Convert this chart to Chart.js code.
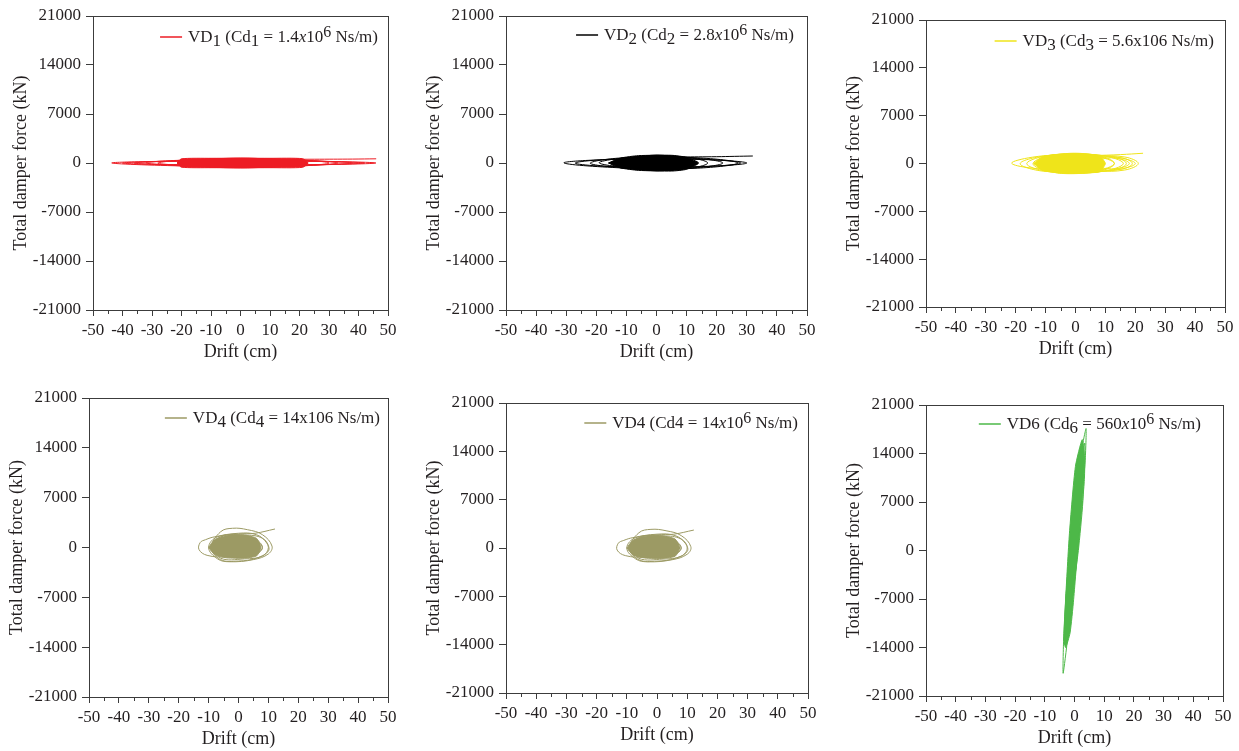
<!DOCTYPE html>
<html>
<head>
<meta charset="utf-8">
<script src="https://cdn.jsdelivr.net/npm/chart.js@4.4.1/dist/chart.umd.min.js"></script>
<style>
  body { margin: 0; background: #fff; width: 1239px; height: 751px; position: relative; overflow: hidden; }
  canvas { position: absolute; }
</style>
</head>
<body>
<script>
// --- axis ticks ---
const driftTicks = [-50, -40, -30, -20, -10, 0, 10, 20, 30, 40, 50];
const forceTicks = [-21000, -14000, -7000, 0, 7000, 14000, 21000];

// --- VD1 (red) ---
const vd1Drift = [0, -4,-2,2,4,2,-2, -11,-5.5,6.5,13,6.5,-5.5, -20,-10,11,22,11,-10, -32,-16,16.5,33,16.5,-16,
  -43.6,-21.8,23,45.9,23,-21.8, -40,-20,21,42,21,-20, -36,-18,19,38,19,-18, -28,-14,15,30,15,-14,
  -21,-10.5,10.5,21,10.5,-10.5, -15,-7.5,8,16,8,-7.5, -8,-4,4.5,9,4.5,-4, -12,-6,10,25,38,46];
const vd1Force = [0, 0,218,218,0,-218,-218, 0,390,390,0,-390,-390, 0,565,565,0,-565,-565, 0,450,450,0,-450,-450,
  0,260,260,0,-260,-260, 0,245,245,0,-245,-245, 0,330,330,0,-330,-330, 0,520,520,0,-520,-520,
  0,575,575,0,-575,-575, 0,520,520,0,-520,-520, 0,350,350,0,-350,-350, 0,450,520,540,560,600];
const vd1CoreDrift = [-21.5, -20, -10, 10, 21, 22.9, 21, 10, -10, -20, -21.5];
const vd1CoreForce = [0, 600, 670, 670, 620, 0, -620, -670, -670, -600, 0];

// --- VD2 (black) ---
const vd2Drift = [0, -4,-2,2,4,2,-2, -10,-5,5.5,11,5.5,-5, -19,-9.5,11,22,11,-9.5, -30.7,-15.4,15,30,15,-15.4,
  -27,-13.5,14,28,14,-13.5, -22,-11,13.5,27,13.5,-11, -15,-7.5,8.5,17,8.5,-7.5, -9,-4.5,5,10,5,-4.5,
  -12,-6,8,20,26,32];
const vd2Force = [0, 0,350,350,0,-350,-350, 0,780,780,0,-780,-780, 0,740,740,0,-740,-740, 0,500,500,0,-500,-500,
  0,560,560,0,-560,-560, 0,740,740,0,-740,-740, 0,870,870,0,-870,-870, 0,950,950,0,-950,-950,
  0,700,850,900,950,1000];
const vd2CoreDrift = [-16, -12, -6, 5, 10, 14, 10, 5, -6, -12, -16];
const vd2CoreForce = [0, 700, 1050, 1100, 800, 0, -900, -1150, -1050, -700, 0];

// --- VD3 (yellow) ---
const vd3Drift = [0, -5,-2.5,2.5,5,2.5,-2.5, -12,-6,6.5,13,6.5,-6, -21.3,-10.6,10,20,10,-10.6, -18.5,-9.2,9,18,9,-9.2,
  -16.3,-8.2,8,16,8,-8.2, -14.2,-7.1,6.5,13,6.5,-7.1, 3,7.5,16.5,21,16.5,7.5, 5,8.5,15.5,19,15.5,8.5,
  7,9.5,14.5,17,14.5,9.5, -8,-4,6,15,22.6];
const vd3Force = [0, 0,520,520,0,-520,-520, 0,1040,1040,0,-1040,-1040, 0,1130,1130,0,-1130,-1130, 0,1150,1150,0,-1150,-1150,
  0,1210,1210,0,-1210,-1210, 0,1260,1260,0,-1260,-1260, 0,950,950,0,-950,-950, 0,830,830,0,-830,-830,
  0,700,700,0,-700,-700, 0,900,1150,1300,1500];
const vd3CoreDrift = [-14, -11, -5, 3, 8, 10, 8, 3, -5, -11, -14];
const vd3CoreForce = [0, 1000, 1380, 1390, 1100, 0, -1200, -1380, -1400, -1000, 0];

// --- VD4 (olive) ---
const vd4Drift = [0, -4,-2,2,4,2,-2, -8,-4,4,8,4,-4,
  -10.5,-13.2,-12.8,-11,-8,0,6,9.5,10,6,0,-6,
  -9,-6,-2,3,8,11.2,10,5,-3,-7,
  -10,-7,2,8,10,8,2,-6, -7,-4,4,8,4,-4, -9,-6,0,5.5,12.2];
const vd4Force = [0, 0,800,850,0,-750,-800, 0,1400,1500,0,-1300,-1350,
  -1100,-300,700,1100,1500,2000,1800,600,-500,-1500,-1900,-1700,
  0,2200,2700,2500,1800,200,-900,-1700,-2000,-1600,
  0,1500,1750,1300,0,-1200,-1600,-1500, 0,1200,1200,0,-1150,-1200, 0,1500,1900,2000,2600];
const vd4CoreDrift = [-10, -8, -4, 2, 6, 7.5, 6, 2, -4, -8, -10];
const vd4CoreForce = [0, 1100, 1700, 1750, 1300, 0, -1200, -1480, -1450, -1000, 0];

// --- VD6 (green) ---
const vd6Drift = [0, -2,-1.9,-1.1,0.1,2,2,1.1,-0.1,
  -3.8,-3.6,-2.6,-1,0.8,2.6,3.9,3.6,2.4,1.2,-0.3,-1.8,
  -3.4,-3,-1.6,0.6,3.4,3.3,1.5,-0.5,-2.2,
  -3,-2.5,-1.2,0.8,3,2.8,1.3,-0.6,
  -2.5,-1.8,-0.5,1.2,2.6,2,0.8,-1];
const vd6Force = [0, -9000,-4500,0,4500,9000,4500,0,-4500,
  -17700,-12000,-5000,2000,10000,15000,17600,13000,7000,1500,-5000,-11000,
  -13500,-8000,0,8000,15500,10000,2000,-6000,-12000,
  -12000,-6000,0,6000,12500,7000,0,-6000,
  -10000,-4000,1500,6000,11000,5000,0,-6000];
const vd6CoreDrift = [-3.6, -3.0, -1.7, 0.3, 2.6, 3.4, 3.3, 1.5, -0.3, -1.5, -3.0, -3.6];
const vd6CoreForce = [-13000, -7100, 2500, 12100, 16000, 13500, 12100, 2500, -7100, -11900, -14000, -13000];

// --- legend texts (part, style) ---
const legend1 = [['VD',''],['1','sub'],[' (Cd',''],['1','sub'],[' = 1.4',''],['x','it'],['10',''],['6','sup'],[' Ns/m)','']];
const legend2 = [['VD',''],['2','sub'],[' (Cd',''],['2','sub'],[' = 2.8',''],['x','it'],['10',''],['6','sup'],[' Ns/m)','']];
const legend3 = [['VD',''],['3','sub'],[' (Cd',''],['3','sub'],[' = 5.6x106 Ns/m)','']];
const legend4 = [['VD',''],['4','sub'],[' (Cd',''],['4','sub'],[' = 14x106 Ns/m)','']];
const legend5 = [['VD4 (Cd4 = 14',''],['x','it'],['10',''],['6','sup'],[' Ns/m)','']];
const legend6 = [['VD6 (Cd',''],['6','sub'],[' = 560',''],['x','it'],['10',''],['6','sup'],[' Ns/m)','']];

const FONT = "'Liberation Serif', 'Times New Roman', serif";
const TEXT = '#231F20';
const AXIS = '#3C3C3C';

const toPts = (xs, ys) => xs.map((x, i) => ({ x, y: ys[i] }));

// plot box of each panel on the page: [left, top, right, bottom]
const panels = [
  { box: [93, 16, 388, 310],  color: '#ED1C24', drift: vd1Drift, force: vd1Force, cd: vd1CoreDrift, cf: vd1CoreForce, legend: legend1, lr: 10, ly: 21, tension: 0.4 },
  { box: [506, 16, 807, 310], color: '#000000', drift: vd2Drift, force: vd2Force, cd: vd2CoreDrift, cf: vd2CoreForce, legend: legend2, lr: 13, ly: 19, tension: 0.4 },
  { box: [926, 20, 1225, 307], color: '#EFE41A', drift: vd3Drift, force: vd3Force, cd: vd3CoreDrift, cf: vd3CoreForce, legend: legend3, lr: 11, ly: 21, tension: 0.4 },
  { box: [89, 398, 388, 697], color: '#9C9A64', drift: vd4Drift, force: vd4Force, cd: vd4CoreDrift, cf: vd4CoreForce, legend: legend4, lr: 8, ly: 20, tension: 0.4 },
  { box: [506, 403, 808, 693], color: '#9C9A64', drift: vd4Drift, force: vd4Force, cd: vd4CoreDrift, cf: vd4CoreForce, legend: legend5, lr: 10, ly: 20, tension: 0.4 },
  { box: [926, 405, 1223, 696], color: '#4DB848', drift: vd6Drift, force: vd6Force, cd: vd6CoreDrift, cf: vd6CoreForce, legend: legend6, lr: 22, ly: 19, tension: 0.2 }
];

// frame, minor ticks and legend inside the plot
function decoPlugin(p) {
  return {
    id: 'deco',
    afterDraw(chart) {
      const { ctx, chartArea: a, scales } = chart;
      ctx.save();
      ctx.strokeStyle = AXIS;
      ctx.lineWidth = 1;
      ctx.strokeRect(Math.round(a.left) + 0.5, Math.round(a.top) + 0.5,
        Math.round(a.right - a.left), Math.round(a.bottom - a.top));

      // minor ticks on drift axis
      ctx.beginPath();
      for (let v = -45; v <= 45; v += 10) {
        const px = Math.round(scales.x.getPixelForValue(v)) + 0.5;
        ctx.moveTo(px, a.bottom);
        ctx.lineTo(px, a.bottom + 4);
      }
      ctx.stroke();

      // legend
      const size = 17;
      const fontFor = st => (st === 'it' ? 'italic ' : '') + (st === 'sup' ? size - 1 : size) + 'px ' + FONT;
      let total = 0;
      p.legend.forEach(([t, st]) => { ctx.font = fontFor(st); total += ctx.measureText(t).width; });
      let x = a.right - p.lr - total;
      const y = a.top + p.ly;
      ctx.strokeStyle = p.color;
      ctx.lineWidth = 1.5;
      ctx.beginPath();
      ctx.moveTo(x - 28, y);
      ctx.lineTo(x - 6, y);
      ctx.stroke();
      ctx.fillStyle = TEXT;
      ctx.textBaseline = 'middle';
      p.legend.forEach(([t, st]) => {
        ctx.font = fontFor(st);
        const dy = st === 'sub' ? 4 : (st === 'sup' ? -5 : 0);
        ctx.fillText(t, x, y + 1 + dy);
        x += ctx.measureText(t).width;
      });
      ctx.restore();
    }
  };
}

panels.forEach(p => {
  const [L, T, R, B] = p.box;
  const w = R - L + 86 + 14;
  const h = B - T + 16 + 60;
  const cv = document.createElement('canvas');
  cv.width = w;
  cv.height = h;
  cv.style.left = (L - 86) + 'px';
  cv.style.top = (T - 16) + 'px';
  cv.style.width = w + 'px';
  cv.style.height = h + 'px';
  document.body.appendChild(cv);

  const tickFont = { family: FONT, size: 17 };
  const titleFont = { family: FONT, size: 18 };

  new Chart(cv.getContext('2d'), {
    type: 'line',
    data: {
      datasets: [
        {
          data: toPts(p.cd, p.cf),
          borderColor: p.color,
          backgroundColor: p.color,
          borderWidth: 1,
          fill: 'shape',
          pointRadius: 0,
          tension: 0.2
        },
        {
          data: toPts(p.drift, p.force),
          borderColor: p.color,
          borderWidth: 1,
          fill: false,
          pointRadius: 0,
          tension: p.tension
        }
      ]
    },
    options: {
      responsive: false,
      animation: false,
      layout: { padding: { left: 0, top: 16, right: 14, bottom: 4 } },
      plugins: { legend: { display: false }, tooltip: { enabled: false } },
      scales: {
        x: {
          type: 'linear',
          min: driftTicks[0],
          max: driftTicks[driftTicks.length - 1],
          afterBuildTicks: s => { s.ticks = driftTicks.map(v => ({ value: v })); },
          afterFit: s => { s.height = 56; },
          ticks: { font: tickFont, color: TEXT, padding: 4, maxRotation: 0, autoSkip: false, callback: v => String(v) },
          grid: { drawOnChartArea: false, drawTicks: true, tickLength: 6, tickColor: AXIS },
          border: { display: false },
          title: { display: true, text: 'Drift (cm)', font: titleFont, color: TEXT, padding: { top: 0, bottom: 3 } }
        },
        y: {
          type: 'linear',
          min: forceTicks[0],
          max: forceTicks[forceTicks.length - 1],
          afterBuildTicks: s => { s.ticks = forceTicks.map(v => ({ value: v })); },
          afterFit: s => { s.width = 86; },
          ticks: { font: tickFont, color: TEXT, padding: 5, autoSkip: false, callback: v => String(v) },
          grid: { drawOnChartArea: false, drawTicks: true, tickLength: 7, tickColor: AXIS },
          border: { display: false },
          title: { display: true, text: 'Total damper force (kN)', font: titleFont, color: TEXT, padding: { top: 3, bottom: 0 } }
        }
      }
    },
    plugins: [decoPlugin(p)]
  });
});
</script>
</body>
</html>
